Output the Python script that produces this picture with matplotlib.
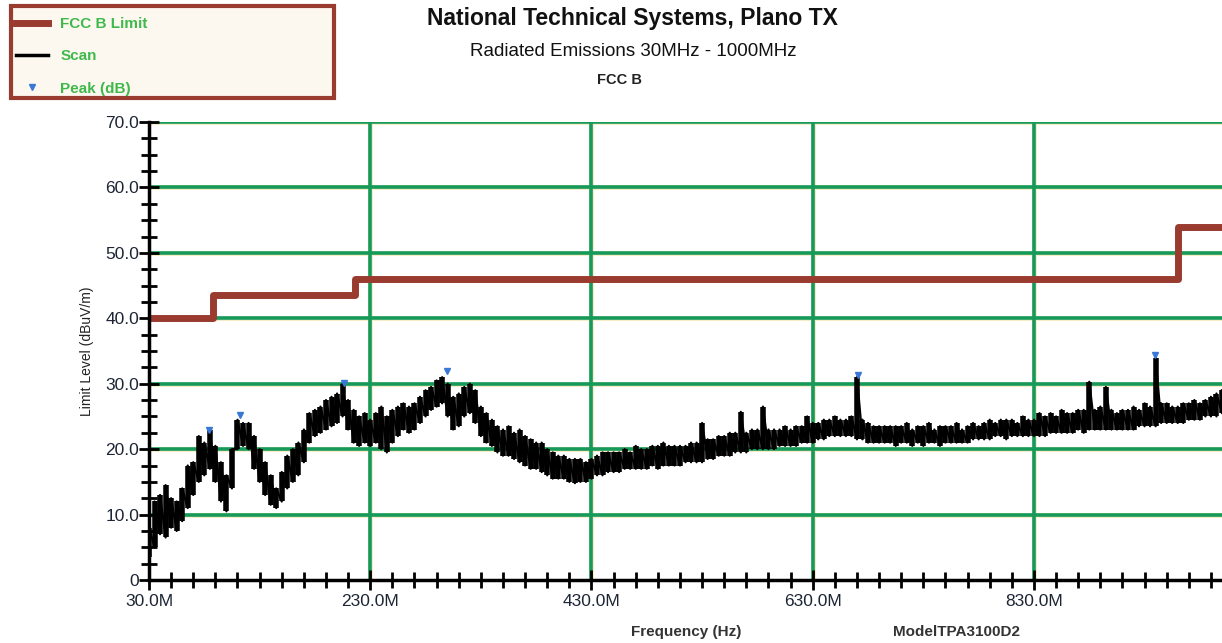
import numpy as np
import matplotlib.pyplot as plt
from matplotlib.lines import Line2D
from matplotlib.patches import Rectangle
from matplotlib.ticker import FixedLocator, MultipleLocator

plt.rcParams['font.family'] = ['Liberation Sans', 'DejaVu Sans']

# FCC class B limit (step, dBuV/m)
limit_freq = [30, 88, 216, 960, 1000]
limit_level = [40, 43.5, 46, 54, 54]

# Scan envelope, one bin every 5 MHz from 30 to 1000 MHz (low / high reading)
scan_lo = [
    3.5, 5, 7, 6.5, 8, 7.5, 9, 11, 13, 15,
    16, 17, 15, 12, 10.5, 14, 20, 20.5, 20, 17,
    15, 13, 11.5, 11, 12, 14, 15, 16, 18, 21,
    22, 22.5, 23, 23.5, 24, 25, 23, 21, 20.5, 21,
    20.5, 21, 20, 19.5, 21, 22, 23, 22.5, 23, 24,
    25, 26, 26.5, 27, 25, 23, 23.5, 25, 25.5, 24,
    22, 21, 20.5, 19.5, 19, 19, 18.5, 18, 17.5, 17,
    17, 16.5, 16, 15.5, 15.5, 15.5, 15, 14.8, 15, 15,
    15.5, 16, 16, 16.5, 16.5, 16.5, 17, 17, 17, 17,
    17, 17.5, 17, 17.5, 17.5, 17.5, 17.5, 18, 18, 18,
    18, 18.5, 18.5, 19, 19, 19, 19.5, 19.5, 19.5, 20,
    20, 20, 20, 20, 20.5, 20.5, 20.5, 20.5, 21, 21,
    21, 21.5, 21.5, 22, 22, 22, 22, 22, 21.5, 21.5,
    21, 21, 21, 21, 21, 20.5, 21, 21, 20.5, 21,
    20.5, 21, 21, 20.5, 21, 21, 21, 21, 21, 21.5,
    21.5, 21.5, 21.5, 22, 22, 21.5, 22, 22, 22, 22,
    22, 22, 22, 22.5, 22.5, 22.5, 22.5, 22.5, 23, 22.5,
    23, 23, 23, 23, 23, 23, 23, 23, 23, 23.5,
    23.5, 23.5, 23.5, 24, 24, 24, 24, 24, 24.5, 24.5,
    24.5, 25, 25, 25, 25.5,
]
scan_hi = [
    8, 12, 13, 14.5, 12.5, 12, 14, 17.5, 18, 22,
    21, 23, 20.5, 18, 16, 20, 24.5, 24, 24, 22,
    20, 18, 16, 14, 16.5, 19, 20, 21, 23, 25.5,
    26, 26.5, 27.5, 28, 28.5, 30, 27.5, 26, 25, 25.5,
    24.5, 25.5, 26.5, 25, 26, 26.5, 27, 26.5, 27, 28,
    29, 29.5, 30.5, 31, 30, 28, 28.5, 29.5, 30, 29,
    26.5, 25.5, 24.5, 23.5, 23, 23.5, 22.5, 23, 22, 21.5,
    21, 21, 20, 19.5, 19, 19, 18.5, 18.5, 18.5, 18,
    18.5, 19, 19.5, 19.5, 19.5, 19.5, 20, 19.5, 20.5, 20,
    20, 20.5, 20.5, 21, 20.5, 20.5, 20.5, 20.5, 21, 21,
    24, 21.5, 21.5, 22, 22, 22.5, 22.5, 25.7, 22.5, 23,
    23, 26.5, 23, 23, 23, 23.5, 23, 23.5, 23.5, 25,
    24, 24, 24.5, 24.5, 25, 24.5, 24.5, 25, 31, 24.5,
    24, 23.5, 23.5, 23.5, 23.5, 23.5, 23.5, 24, 23, 23.5,
    23.5, 24, 23, 23.5, 23.5, 23.5, 24, 23, 23.5, 24,
    23.5, 24, 24.5, 24, 24.5, 24.5, 24.5, 24, 25, 24.5,
    24.5, 25.5, 25, 25.5, 25, 26, 25.5, 25.5, 26, 26,
    30.3, 26, 26.5, 29.5, 26, 25.5, 26, 26, 26.5, 26,
    27, 26.5, 34, 27, 27, 26.5, 26.5, 27, 27, 27.5,
    27, 27.5, 28, 28.5, 29,
]
scan_freq = np.arange(30, 1001, 5)

# Peak markers
peak_freq = [84, 112, 206, 299, 671, 939]
peak_level = [22.9, 25.2, 30.1, 32.0, 31.3, 34.4]

x_major = [30, 230, 430, 630, 830]
x_labels = ['30.0M', '230.0M', '430.0M', '630.0M', '830.0M']
y_major = [0, 10, 20, 30, 40, 50, 60, 70]
y_labels = ['0', '10.0', '20.0', '30.0', '40.0', '50.0', '60.0', '70.0']

limit_color = '#9a3b30'
grid_color = '#169a5a'
grid_edge = '#f6ecc6'
text_green = '#3fb94c'
tick_text = '#1d2535'

fig = plt.figure(figsize=(12.22, 6.43), dpi=100)
ax = fig.add_axes([149 / 1222, 1 - 580 / 643, (1222 - 149) / 1222, (580 - 122) / 643])

ax.set_xlim(30, 1000)
ax.set_ylim(0, 70)

# grid: green line on a faint yellow halo, under the data
for y in y_major[1:]:
    ax.axhline(y, color=grid_edge, lw=3.6, zorder=1)
    ax.axhline(y, color=grid_color, lw=2.6, zorder=1.1)
for x in x_major[1:]:
    ax.axvline(x, color=grid_edge, lw=3.6, zorder=1)
    ax.axvline(x, color=grid_color, lw=2.6, zorder=1.1)

ax.step(limit_freq, limit_level, where='post', color=limit_color, lw=5, zorder=3)

# scan: min/max bars plus a zigzag trace through them
ax.vlines(scan_freq, scan_lo, scan_hi, color='black', lw=4, zorder=4)
zig_x = np.repeat(scan_freq, 2)
zig_y = np.ravel(np.column_stack([scan_lo, scan_hi]))
ax.plot(zig_x, zig_y, color='black', lw=1.6, zorder=4)

ax.plot(peak_freq, peak_level, 'v', color='#3a78d8', markersize=5, zorder=5)

ax.set_xticks(x_major)
ax.set_xticklabels(x_labels)
ax.set_yticks(y_major)
ax.set_yticklabels(y_labels)
ax.xaxis.set_minor_locator(FixedLocator(np.arange(30, 1001, 20)))
ax.yaxis.set_minor_locator(MultipleLocator(2.5))
ax.tick_params(which='major', direction='inout', length=14, width=2, colors='black',
               labelcolor=tick_text, labelsize=12.5)
ax.tick_params(which='minor', direction='inout', length=11, width=2, colors='black')
ax.tick_params(axis='x', pad=3)
ax.tick_params(axis='y', pad=0)

for side in ['top', 'right']:
    ax.spines[side].set_visible(False)
for side in ['left', 'bottom']:
    ax.spines[side].set_linewidth(2.5)
    ax.spines[side].set_zorder(6)

ax.set_ylabel('Limit Level (dBuV/m)', fontsize=10, color='#222222', labelpad=8)

fig.text(686 / 1222, 1 - 632 / 643, 'Frequency (Hz)', ha='center', va='center',
         fontsize=11, fontweight='bold', color='#333333')
fig.text(956 / 1222, 1 - 632 / 643, 'ModelTPA3100D2', ha='center', va='center',
         fontsize=11, fontweight='bold', color='#333333')

fig.text(632 / 1222, 1 - 18 / 643, 'National Technical Systems, Plano TX', ha='center',
         va='center', fontsize=16.5, fontweight='bold', color='#111111')
fig.text(633 / 1222, 1 - 52 / 643, 'Radiated Emissions 30MHz - 1000MHz', ha='center',
         va='center', fontsize=13.5, color='#111111')
fig.text(619 / 1222, 1 - 80 / 643, 'FCC B', ha='center', va='center',
         fontsize=10.5, fontweight='bold', color='#222222')

# legend box
fig.patches.append(Rectangle((11 / 1222, 1 - 98 / 643), 323 / 1222, 92 / 643,
                             transform=fig.transFigure, facecolor='#fdf8ef',
                             edgecolor=limit_color, lw=3, zorder=0))
handles = [
    Line2D([], [], color=limit_color, lw=5),
    Line2D([], [], color='black', lw=2.5),
    Line2D([], [], color='#3a78d8', marker='v', ls='none', markersize=5),
]
leg = fig.legend(handles, ['FCC B Limit', 'Scan', 'Peak (dB)'], loc='upper left',
                 bbox_to_anchor=(16 / 1222, 1 - 17 / 643), frameon=False,
                 fontsize=11, labelspacing=1.2, handlelength=2.1, handletextpad=0.8,
                 borderaxespad=0, borderpad=0)
for t in leg.get_texts():
    t.set_color(text_green)
    t.set_fontweight('bold')

fig.savefig('out.png', dpi=100)
